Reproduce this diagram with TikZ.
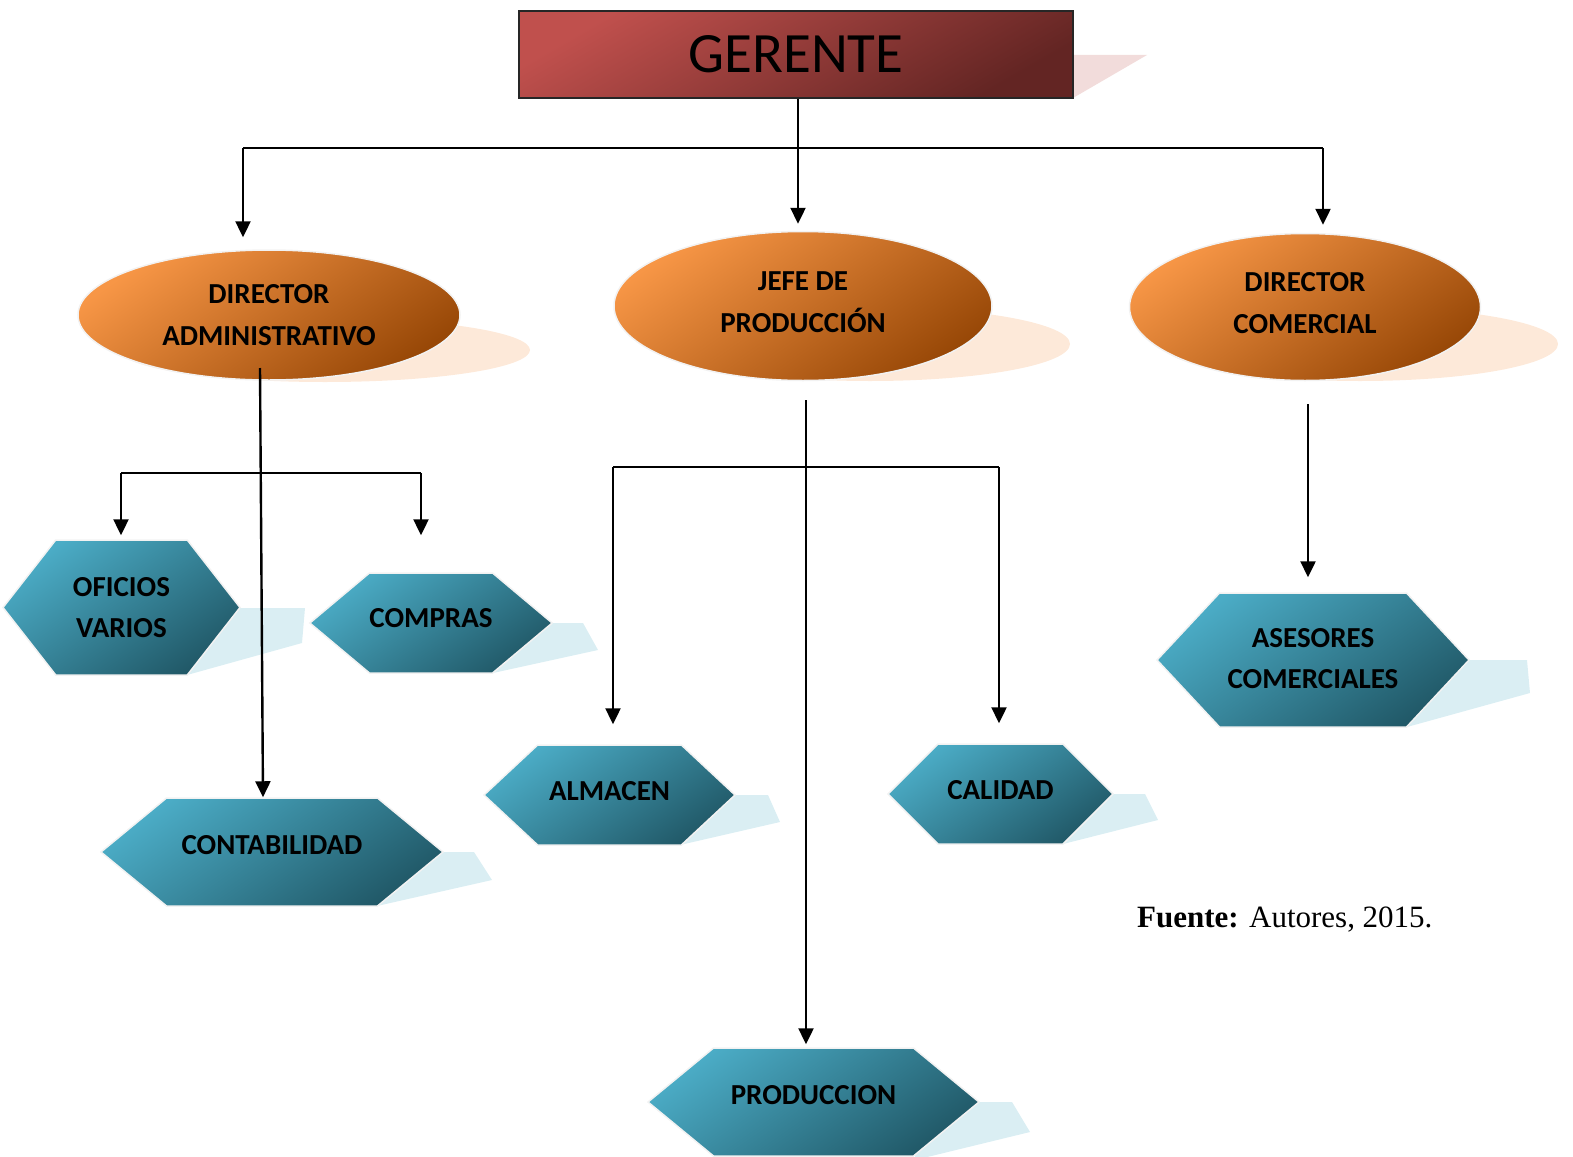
\documentclass[tikz,border=0pt]{standalone}
\usepackage{fontspec}
\setmainfont{Carlito}
\newfontfamily\srcfont{Liberation Serif}
\usetikzlibrary{arrows.meta,shapes.geometric,shapes.symbols}
\definecolor{GerTop}{HTML}{C0504D}
\definecolor{GerBot}{HTML}{632523}
\definecolor{GerShade}{HTML}{F2DCDB}
\definecolor{DirTop}{HTML}{F79646}
\definecolor{DirBot}{HTML}{984807}
\definecolor{DirShade}{HTML}{FDE9D9}
\definecolor{AreaTop}{HTML}{4BACC6}
\definecolor{AreaBot}{HTML}{215968}
\definecolor{AreaShade}{HTML}{DAEEF3}
\tikzset{
  gerbox/.style={draw=black!85, line width=2pt, minimum width=554pt,
    minimum height=87pt, inner sep=0pt, top color=GerTop,
    bottom color=GerBot, shading angle=30,
    font=\fontsize{57}{60}\selectfont},
  dirbox/.style={ellipse, draw=white!90!gray, line width=1.5pt,
    inner sep=0pt, align=center, top color=DirTop, bottom color=DirBot,
    shading angle=35, font=\fontsize{29}{42}\selectfont\bfseries},
  areabox/.style={signal, signal from=nowhere, signal to=east and west,
    signal pointer angle=#1, draw=white!90!gray, line width=1.5pt,
    inner sep=0pt, align=center, top color=AreaTop, bottom color=AreaBot,
    shading angle=35, font=\fontsize{29}{41}\selectfont\bfseries},
  areabox/.default=90,
  conn/.style={-{Triangle[length=16pt,width=15pt]}, line width=2.4pt},
  bar/.style={line width=2.4pt},
}

\begin{document}
\begin{tikzpicture}[x=1pt,y=-1pt]
  \useasboundingbox (0,0) rectangle (1573,1156);

  % shadows
  \fill[GerShade] (1000,55) -- (1147,55) -- (1073,98) -- (1000,98) -- cycle;
  \fill[DirShade] (325,350) ellipse [x radius=205, y radius=32];
  \fill[DirShade] (870,344) ellipse [x radius=200, y radius=37];
  \fill[DirShade] (1360,344) ellipse [x radius=198, y radius=37];
  \fill[AreaShade] (187,608) -- (305,608) -- (302,643) -- (187,675) -- cycle;
  \fill[AreaShade] (493,623) -- (583,623) -- (598,650) -- (493,673) -- cycle;
  \fill[AreaShade] (377,852) -- (474,852) -- (492,880) -- (377,906) -- cycle;
  \fill[AreaShade] (680,795) -- (768,795) -- (780,822) -- (680,845) -- cycle;
  \fill[AreaShade] (1063,794) -- (1145,794) -- (1158,820) -- (1063,844) -- cycle;
  \fill[AreaShade] (1407,660) -- (1527,660) -- (1530,693) -- (1407,727) -- cycle;
  \fill[AreaShade] (915,1102) -- (1012,1102) -- (1030,1132) -- (915,1160) -- cycle;

  \node[gerbox] (ger) at (796,54.5) {GERENTE};

  \node[dirbox, minimum width=382pt, minimum height=130pt] (adm) at (269,315)
    {DIRECTOR\\ADMINISTRATIVO};
  \node[dirbox, minimum width=378pt, minimum height=149pt, text depth=8pt] (jefe) at (803,306)
    {JEFE DE\\PRODUCCIÓN};
  \node[dirbox, minimum width=351pt, minimum height=147pt, text depth=8pt] (com) at (1305,307)
    {DIRECTOR\\COMERCIAL};

  \node[areabox=104, minimum width=237pt, minimum height=135pt] (ofi) at (121.5,607.5)
    {OFICIOS\\VARIOS};
  \node[areabox=80, minimum width=242pt, minimum height=100pt, text depth=10pt] (comp) at (431,623)
    {COMPRAS};
  \node[areabox=79, minimum width=342pt, minimum height=108pt, text depth=14pt] (cont) at (272,852)
    {CONTABILIDAD};
  \node[areabox=86, minimum width=251pt, minimum height=100pt, text depth=8pt] (alm) at (609.5,795)
    {ALMACEN};
  \node[areabox=90, minimum width=225pt, minimum height=100pt, text depth=8pt] (cal) at (1000.5,794)
    {CALIDAD};
  \node[areabox=94, minimum width=312pt, minimum height=134pt, text depth=4pt] (ase) at (1313,660)
    {ASESORES\\COMERCIALES};
  \node[areabox=79, minimum width=331pt, minimum height=108pt, text depth=14pt] (prod) at (813.5,1102)
    {PRODUCCION};

  \node[anchor=base west, inner sep=0pt, font=\srcfont\fontsize{31}{34}\selectfont]
    (src) at (1137,927) {\textbf{Fuente:} Autores, 2015.};

  % gerente to directors
  \coordinate (barL) at (243,148);
  \coordinate (barR) at (1323,148);
  \draw[bar] (barL) -- (barR);
  \draw[conn, shorten >=7pt] ([xshift=2pt]ger.south) -- ([xshift=2pt]ger.south |- jefe.north);
  \draw[conn, shorten >=12pt] (barL) -- (barL |- adm.north);
  \draw[conn, shorten >=8pt] (barR) -- (barR |- com.north);

  % administrativo
  \coordinate (admL) at (121,473);
  \coordinate (admR) at (421,473);
  \draw[bar] (admL) -- (admR);
  \draw[conn, shorten >=4pt] (admL) -- (admL |- ofi.north);
  \draw[conn, shorten >=37pt] (admR) -- (admR |- comp.north);
  \draw[conn] ([shift={(-9,53)}]adm.center) -- ([xshift=-9pt]cont.north);

  % produccion
  \coordinate (jefL) at (613,467);
  \coordinate (jefR) at (999,467);
  \draw[bar] (jefL) -- (jefR);
  \draw[conn, shorten >=20pt] (jefL) -- (jefL |- alm.north);
  \draw[conn, shorten >=20pt] (jefR) -- (jefR |- cal.north);
  \draw[conn, shorten >=3pt] ([shift={(3,19)}]jefe.south) -- ([xshift=-7.5pt]prod.north);

  % comercial
  \draw[conn, shorten >=15pt] ([shift={(3,23)}]com.south) -- ([xshift=-5pt]ase.north);
\end{tikzpicture}
\end{document}
